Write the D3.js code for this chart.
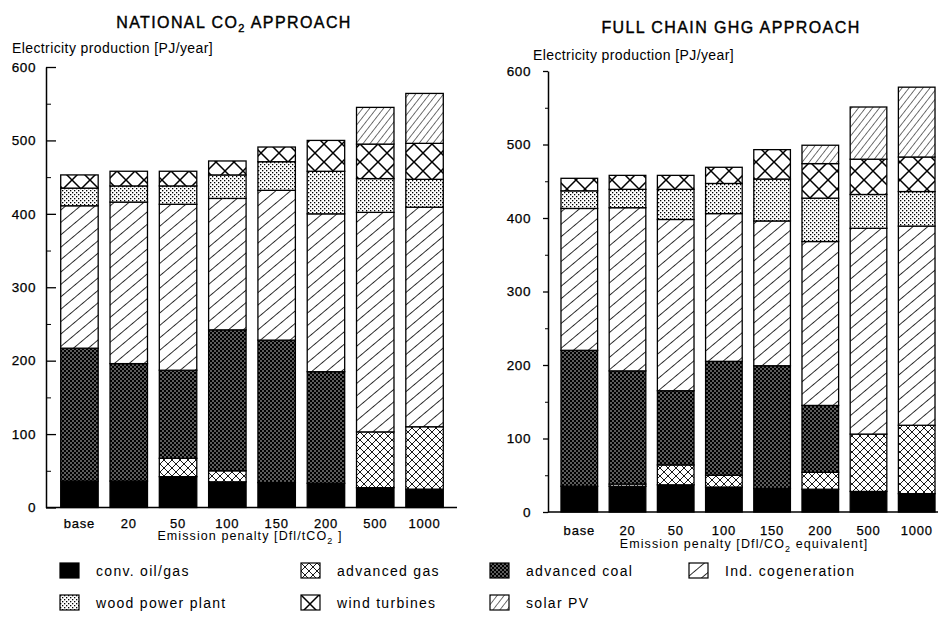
<!DOCTYPE html>
<html>
<head>
<meta charset="utf-8">
<script src="https://cdn.jsdelivr.net/npm/d3@7"></script>
<style>
    body { margin: 0; background: #fff; }
    svg { display: block; font-family: "Liberation Sans", Arial, Helvetica, sans-serif; }
</style>
</head>
<body>
<svg id="chart" width="939" height="619"></svg>
<script>
// categories (emission penalty) and series, bottom to top of each bar
const categories = ['base', '20', '50', '100', '150', '200', '500', '1000'];
const seriesKeys = ['oil', 'gas', 'coal', 'cogen', 'wood', 'wind', 'solar'];
const seriesNames = ['conv. oil/gas', 'advanced gas', 'advanced coal', 'Ind. cogeneration',
                     'wood power plant', 'wind turbines', 'solar PV'];

// NATIONAL CO2 APPROACH [PJ/year]
const natOil   = [36, 36, 42, 35, 34, 33, 27, 25];
const natGas   = [0, 0, 25, 15, 0, 0, 76, 85];
const natCoal  = [181, 160, 120, 192, 194, 152, 0, 0];
const natCogen = [194, 220, 226, 179, 204, 215, 299, 299];
const natWood  = [24, 22, 25, 32, 39, 58, 46, 38];
const natWind  = [18, 20, 20, 19, 20, 42, 47, 49];
const natSolar = [0, 0, 0, 0, 0, 0, 50, 68];

// FULL CHAIN GHG APPROACH [PJ/year]
const ghgOil   = [35, 35, 37, 34, 32, 31, 28, 25];
const ghgGas   = [0, 3, 27, 16, 0, 23, 78, 93];
const ghgCoal  = [185, 154, 101, 155, 167, 91, 0, 0];
const ghgCogen = [193, 222, 233, 201, 197, 223, 280, 271];
const ghgWood  = [24, 25, 41, 41, 57, 59, 46, 47];
const ghgWind  = [17, 19, 19, 22, 40, 47, 48, 47];
const ghgSolar = [0, 0, 0, 0, 0, 25, 71, 95];

const yTicks = [0, 100, 200, 300, 400, 500, 600];
const yMinorTicks = [50, 150, 250, 350, 450, 550];

let svg = d3.select('#chart');
let defs = svg.append('defs');

//
// PATTERNS
//
let pattern = (id, size, transform) => {
    let p = defs.append('pattern')
        .attr('id', id)
        .attr('patternUnits', 'userSpaceOnUse')
        .attr('width', size)
        .attr('height', size);
    if (transform) p.attr('patternTransform', transform);
    p.append('rect').attr('width', size).attr('height', size).attr('fill', '#fff');
    return p;
}

// advanced gas: fine cross hatch
let pGas = pattern('pat-gas', 8);
pGas.append('path').attr('d', 'M0,0L8,8M8,0L0,8').attr('stroke', '#000').attr('stroke-width', 0.9);

// advanced coal: dark texture
let pCoal = pattern('pat-coal', 4);
pCoal.select('rect').attr('fill', '#000');
pCoal.append('rect').attr('x', 0.4).attr('y', 0.4).attr('width', 1.2).attr('height', 1.2).attr('fill', '#fff');
pCoal.append('rect').attr('x', 2.4).attr('y', 2.4).attr('width', 1.2).attr('height', 1.2).attr('fill', '#fff');

// cogeneration: wide single diagonals
let pCogen = pattern('pat-cogen', 9.5, 'rotate(50)');
pCogen.append('line').attr('x1', 0).attr('y1', 0).attr('x2', 0).attr('y2', 9.5)
    .attr('stroke', '#000').attr('stroke-width', 1.6);

// wood: stipple
let pWood = pattern('pat-wood', 4);
pWood.append('rect').attr('x', 0).attr('y', 0).attr('width', 1.3).attr('height', 1.3).attr('fill', '#000');
pWood.append('rect').attr('x', 2).attr('y', 2).attr('width', 1.3).attr('height', 1.3).attr('fill', '#000');

// wind: big crosses
let pWind = pattern('pat-wind', 18);
pWind.append('path').attr('d', 'M0,0L18,18M18,0L0,18').attr('stroke', '#000').attr('stroke-width', 1.5);

// solar: dense diagonals
let pSolar = pattern('pat-solar', 5.5, 'rotate(38)');
pSolar.append('line').attr('x1', 0).attr('y1', 0).attr('x2', 0).attr('y2', 5.5)
    .attr('stroke', '#000').attr('stroke-width', 1.1);

const fills = {
    oil: '#000', gas: 'url(#pat-gas)', coal: 'url(#pat-coal)', cogen: 'url(#pat-cogen)',
    wood: 'url(#pat-wood)', wind: 'url(#pat-wind)', solar: 'url(#pat-solar)'
};

//
// PANELS
//
let panels = [
    {
        title: ['NATIONAL CO', '2', ' APPROACH'], titleX: 234, titleY: 28,
        yLabelX: 12, yLabelY: 53,
        axisX: 46, xRange: [54.8, 449.2], xEnd: 457, yRange: [507.5, 67],
        tickSize: -10, minorSize: -5, tickPadding: 10, tickBase: 20,
        xTitle: ['Emission penalty [Dfl/tCO', '2', ' ]'], xTitleX: 250, xTitleY: 540,
        values: { oil: natOil, gas: natGas, coal: natCoal, cogen: natCogen, wood: natWood, wind: natWind, solar: natSolar }
    },
    {
        title: ['FULL CHAIN GHG APPROACH', '', ''], titleX: 731, titleY: 33,
        yLabelX: 533, yLabelY: 60,
        axisX: 548, xRange: [555.2, 940.8], xEnd: 938, yRange: [512, 71],
        tickSize: 5, minorSize: 3, tickPadding: 12, tickBase: 23,
        xTitle: ['Emission penalty [Dfl/CO', '2', ' equivalent]'], xTitleX: 744, xTitleY: 548,
        values: { oil: ghgOil, gas: ghgGas, coal: ghgCoal, cogen: ghgCogen, wood: ghgWood, wind: ghgWind, solar: ghgSolar }
    }
];

let subText = (sel, parts, size, subSize) => {
    sel.append('tspan').text(parts[0]);
    if (parts[1]) {
        sel.append('tspan').attr('dy', 4).attr('font-size', subSize).text(parts[1]);
        sel.append('tspan').attr('dy', -4).text(parts[2]);
    }
}

panels.forEach(p => {
    let y = d3.scaleLinear().domain([0, 600]).range(p.yRange);
    let x = d3.scaleBand()
        .domain(categories)
        .range(p.xRange)
        .paddingInner(0.24)
        .paddingOuter(0.12);

    let rows = categories.map((c, i) => {
        let r = { cat: c };
        seriesKeys.forEach(k => r[k] = p.values[k][i]);
        return r;
    });
    let stacked = d3.stack().keys(seriesKeys)(rows);

    // bars
    svg.append('g')
        .selectAll('g')
        .data(stacked)
        .join('g')
            .attr('fill', d => fills[d.key])
            .selectAll('rect')
            .data(d => d.filter(s => s[1] - s[0] > 0))
            .join('rect')
            .attr('x', d => x(d.data.cat))
            .attr('y', d => y(d[1]))
            .attr('width', x.bandwidth())
            .attr('height', d => y(d[0]) - y(d[1]))
            .attr('stroke', '#000')
            .attr('stroke-width', 1.3);

    // y axis
    let yAxis = svg.append('g')
        .attr('transform', `translate(${p.axisX},0)`)
        .call(d3.axisLeft(y).tickValues(yTicks).tickSize(p.tickSize).tickSizeOuter(0).tickPadding(p.tickPadding));
    yAxis.select('.domain').attr('stroke-width', 1.5);
    yAxis.selectAll('.tick line').attr('stroke-width', 1.3);
    yAxis.attr('font-family', null);
    yAxis.selectAll('text')
        .attr('font-size', 13.5)
        .attr('letter-spacing', 0.6)
        .attr('stroke', '#000')
        .attr('stroke-width', 0.25)
        .attr('fill', '#000');

    let yMinor = svg.append('g')
        .attr('transform', `translate(${p.axisX},0)`)
        .call(d3.axisLeft(y).tickValues(yMinorTicks).tickSize(p.minorSize).tickFormat(''));
    yMinor.select('.domain').remove();

    // x axis
    let xAxis = svg.append('g')
        .attr('transform', `translate(0,${y(0)})`)
        .call(d3.axisBottom(x).tickSize(0));
    xAxis.select('.domain').remove();
    xAxis.attr('font-family', null);
    xAxis.selectAll('text')
        .attr('y', p.tickBase)
        .attr('dy', 0)
        .attr('font-size', 13)
        .attr('letter-spacing', 0.8)
        .attr('stroke', '#000')
        .attr('stroke-width', 0.25)
        .attr('fill', '#000');
    svg.append('line')
        .attr('x1', p.axisX).attr('x2', p.xEnd)
        .attr('y1', y(0)).attr('y2', y(0))
        .attr('stroke', '#000').attr('stroke-width', 1.5);

    // titles
    let title = svg.append('text')
        .attr('x', p.titleX).attr('y', p.titleY)
        .attr('text-anchor', 'middle')
        .attr('font-size', 16)
        .attr('letter-spacing', 1.4)
        .attr('stroke', '#000')
        .attr('stroke-width', 0.4);
    subText(title, p.title, 16, 11);

    svg.append('text')
        .attr('x', p.yLabelX).attr('y', p.yLabelY)
        .attr('font-size', 14)
        .attr('letter-spacing', 0.4)
        .text('Electricity production [PJ/year]');

    let xTitle = svg.append('text')
        .attr('x', p.xTitleX).attr('y', p.xTitleY)
        .attr('text-anchor', 'middle')
        .attr('font-size', 12.5)
        .attr('letter-spacing', 1.1);
    subText(xTitle, p.xTitle, 12.5, 9);
});

//
// LEGEND
//
let legendCols = [60, 301, 490, 689];
let legendRows = [563, 595];

let legend = svg.append('g')
    .selectAll('g')
    .data(seriesKeys)
    .join('g')
    .attr('transform', (d, i) => `translate(${legendCols[i % 4]},${legendRows[Math.floor(i / 4)]})`);

legend.append('rect')
    .attr('width', 19)
    .attr('height', 15)
    .attr('fill', d => fills[d])
    .attr('stroke', '#000')
    .attr('stroke-width', 1.2);

legend.append('text')
    .attr('x', 36)
    .attr('y', 13)
    .attr('font-size', 14)
    .attr('letter-spacing', 1.3)
    .text((d, i) => seriesNames[i]);
</script>
</body>
</html>
